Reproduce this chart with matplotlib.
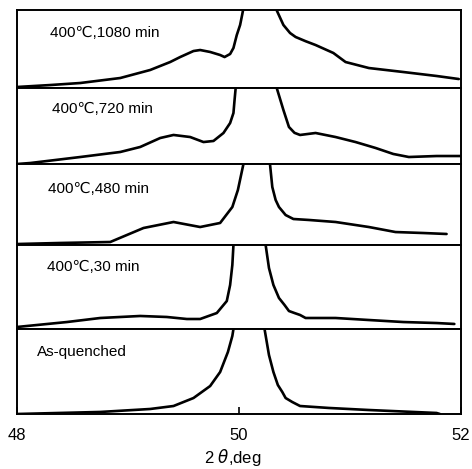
import matplotlib
matplotlib.use("Agg")
import matplotlib.pyplot as plt

plt.rcParams['font.family'] = ['Liberation Sans', 'DejaVu Sans']

# Panel labels (top to bottom)
labels = ["400℃,1080 min", "400℃,720 min", "400℃,480 min", "400℃,30 min", "As-quenched"]

# 2theta (deg) and normalised intensity (fraction of panel height; >1 is clipped)
x_1080 = [48.00, 48.30, 48.57, 48.93, 49.20, 49.38, 49.47, 49.59, 49.65, 49.74, 49.83, 49.87,
          49.92, 49.95, 49.98, 50.01, 50.03, 50.04, 50.18, 50.33, 50.40, 50.46, 50.51, 50.60,
          50.69, 50.85, 50.96, 51.17, 51.48, 51.78, 51.98]
y_1080 = [0.013, 0.038, 0.064, 0.128, 0.231, 0.333, 0.397, 0.474, 0.487, 0.462, 0.423, 0.397,
          0.436, 0.513, 0.679, 0.808, 0.949, 1.026, 4.0, 1.026, 0.808, 0.705, 0.654, 0.60,
          0.551, 0.449, 0.333, 0.256, 0.205, 0.154, 0.115]

x_720 = [48.00, 48.12, 48.57, 48.93, 49.11, 49.29, 49.41, 49.56, 49.68, 49.77, 49.86, 49.92,
         49.95, 49.96, 49.97, 49.98, 50.15, 50.33, 50.34, 50.40, 50.45, 50.50, 50.55, 50.69,
         50.87, 51.05, 51.23, 51.39, 51.53, 51.78, 52.00]
y_720 = [0.0, 0.013, 0.092, 0.158, 0.224, 0.342, 0.382, 0.355, 0.289, 0.303, 0.408, 0.539,
         0.671, 0.842, 1.0, 1.04, 4.0, 1.04, 1.0, 0.711, 0.487, 0.41, 0.382, 0.408, 0.355,
         0.289, 0.211, 0.132, 0.092, 0.105, 0.105]

x_480 = [48.00, 48.39, 48.84, 49.14, 49.41, 49.65, 49.83, 49.94, 49.99, 50.04, 50.05, 50.16,
         50.28, 50.28, 50.30, 50.33, 50.36, 50.42, 50.49, 50.63, 50.87, 51.17, 51.41, 51.66, 51.87]
y_480 = [0.012, 0.025, 0.037, 0.210, 0.284, 0.222, 0.272, 0.469, 0.679, 1.0, 1.05, 4.0,
         1.05, 0.988, 0.716, 0.556, 0.469, 0.370, 0.321, 0.309, 0.284, 0.222, 0.160, 0.148, 0.136]

x_30 = [48.00, 48.45, 48.75, 49.11, 49.35, 49.53, 49.65, 49.80, 49.89, 49.92, 49.94, 49.95,
        49.96, 50.10, 50.23, 50.24, 50.27, 50.31, 50.36, 50.41, 50.45, 50.50, 50.55, 50.60,
        50.87, 51.17, 51.48, 51.78, 51.94]
y_30 = [0.024, 0.083, 0.131, 0.155, 0.143, 0.119, 0.119, 0.190, 0.333, 0.524, 0.762, 1.0,
        1.06, 4.0, 1.06, 1.0, 0.726, 0.524, 0.369, 0.286, 0.214, 0.19, 0.167, 0.131, 0.131,
        0.107, 0.083, 0.071, 0.060]

x_aq = [48.00, 48.75, 49.20, 49.41, 49.59, 49.74, 49.83, 49.90, 49.94, 49.95, 49.96, 50.09,
        50.23, 50.23, 50.27, 50.31, 50.35, 50.39, 50.42, 50.48, 50.55, 50.81, 51.17, 51.78, 51.81]
y_aq = [0.0, 0.024, 0.059, 0.094, 0.188, 0.329, 0.494, 0.729, 0.918, 1.0, 1.047, 4.0,
        1.047, 1.0, 0.694, 0.494, 0.341, 0.259, 0.188, 0.141, 0.094, 0.071, 0.047, 0.012, 0.0]

series = [(x_1080, y_1080), (x_720, y_720), (x_480, y_480), (x_30, y_30), (x_aq, y_aq)]
label_pos = [(0.074, 0.705), (0.079, 0.724), (0.070, 0.691), (0.068, 0.738), (0.045, 0.729)]
xticks = [48, 50, 52]

W, H = 472, 469
fig = plt.figure(figsize=(W / 100, H / 100), dpi=100)
left, right, top, bottom = 17 / W, 461 / W, 10 / H, 414 / H
gs = fig.add_gridspec(5, 1, left=left, right=right, top=1 - top, bottom=1 - bottom,
                      hspace=0, height_ratios=[78, 76, 81, 84, 85])
axes = [fig.add_subplot(gs[i]) for i in range(5)]

for i, (ax, (xs, ys), lab, (lx, ly)) in enumerate(zip(axes, series, labels, label_pos)):
    ax.plot(xs, ys, color='black', lw=1.9, solid_joinstyle='round', solid_capstyle='round')
    ax.set_xlim(48, 52)
    ax.set_ylim(0, 1)
    ax.set_yticks([])
    for s in ax.spines.values():
        s.set_linewidth(1.4)
        s.set_color('black')
    ax.text(lx, ly, lab, transform=ax.transAxes, fontsize=11, ha='left', va='center')
    if i < 4:
        ax.set_xticks([])
    else:
        ax.set_xticks(xticks)
        ax.set_xticklabels([str(t) for t in xticks], fontsize=12)
        ax.tick_params(axis='x', direction='in', length=5, width=1.2, pad=10)

fig.text(233 / W, 1 - 457 / H, r'2 $\it{\theta}$,deg', fontsize=12, ha='center', va='center')

fig.savefig('out.png', dpi=100)
